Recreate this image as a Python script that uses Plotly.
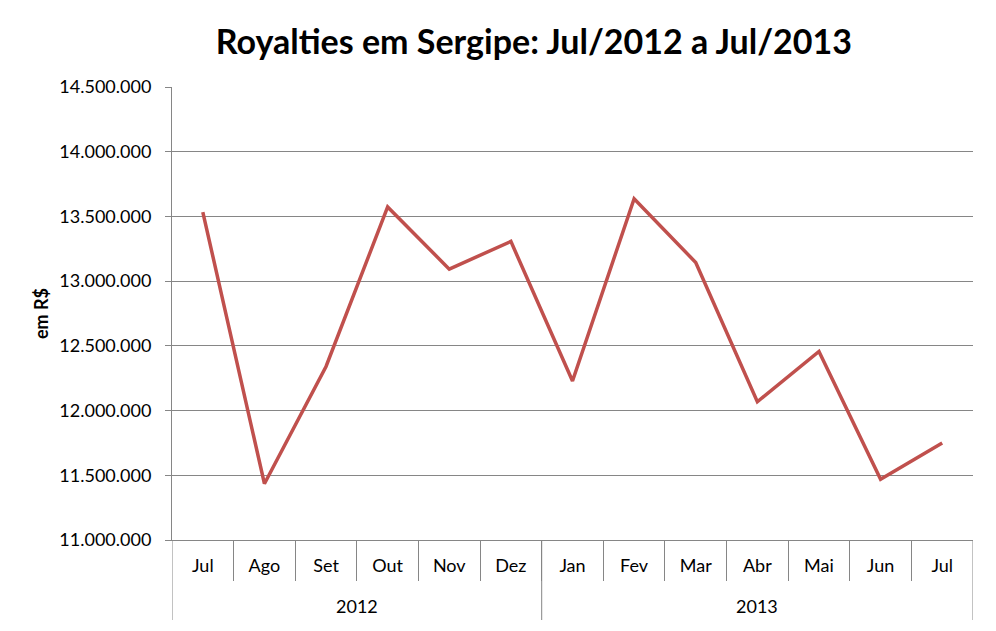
import plotly.graph_objects as go

anos = ["2012"] * 6 + ["2013"] * 7
meses = ["Jul", "Ago", "Set", "Out", "Nov", "Dez",
         "Jan", "Fev", "Mar", "Abr", "Mai", "Jun", "Jul"]
royalties = [13534000, 11435000, 12341000, 13573000, 13093000, 13307000,
             12228000, 13637000, 13144000, 12068000, 12457000, 11470000, 11749000]

idx = list(range(len(meses)))

fig = go.Figure()
fig.add_trace(go.Scatter(x=idx, y=royalties, mode="lines",
                         line=dict(color="#C0504D", width=3.5),
                         showlegend=False))

# anos como segundo nivel do eixo x (anotacoes + divisorias)
grupos = []
for a in anos:
    if a not in grupos:
        grupos.append(a)
divisorias = [-0.5]
for g in grupos:
    pos = [i for i, a in enumerate(anos) if a == g]
    fig.add_annotation(x=sum(pos) / len(pos), xref="x", y=-66 / 453, yref="paper",
                       text=g, showarrow=False, yanchor="middle",
                       font=dict(size=18, family="Lato", color="black"))
    divisorias.append(pos[-1] + 0.5)
for d in divisorias:
    fig.add_shape(type="line", x0=d, x1=d, xref="x", y0=0, y1=-80 / 453, yref="paper",
                  line=dict(color="#868686", width=1))

# a pagina tem 8px de margem no body
fig.update_layout(
    width=996, height=631,
    paper_bgcolor="white", plot_bgcolor="white",
    margin=dict(l=164, r=31, t=79, b=99),
    separators=",.",
    font=dict(family="Lato", color="black", size=18),
    title=dict(text="<b>Royalties em Sergipe: Jul/2012 a Jul/2013</b>",
               x=0.528, xanchor="center", xref="container",
               y=0.946, yanchor="middle", yref="container",
               font=dict(size=34, family="Lato", color="black")),
    xaxis=dict(range=[-0.5, len(meses) - 0.5],
               tickvals=idx, ticktext=meses, ticks="",
               showgrid=False, zeroline=False,
               showline=True, linecolor="#868686", linewidth=1,
               ticklabelstandoff=9,
               minor=dict(tickvals=[i + 0.5 for i in idx[:-1]], ticks="outside",
                          ticklen=40, tickcolor="#868686", showgrid=False),
               tickfont=dict(size=18)),
    yaxis=dict(range=[11000000, 14500000], dtick=500000, tickformat=",d",
               showgrid=True, gridcolor="#868686", gridwidth=1,
               showline=True, linecolor="#868686", linewidth=1,
               ticks="outside", ticklen=6, tickcolor="#868686",
               ticklabelstandoff=10,
               zeroline=False,
               title=dict(text="<b>em R$</b>", font=dict(size=18), standoff=6),
               tickfont=dict(size=18)),
)

fig.write_html("out.html")
